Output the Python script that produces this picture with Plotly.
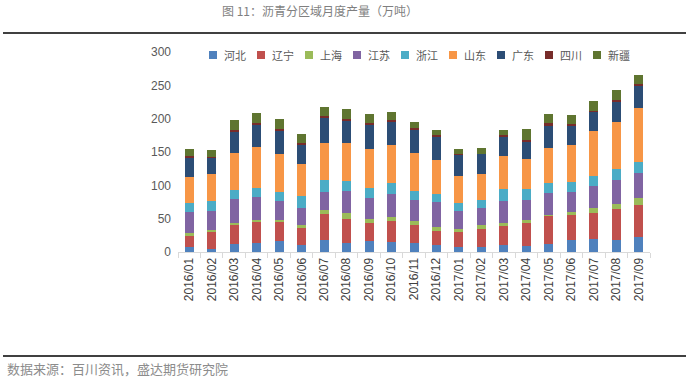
import plotly.graph_objects as go

months = ["2016/01", "2016/02", "2016/03", "2016/04", "2016/05", "2016/06", "2016/07",
          "2016/08", "2016/09", "2016/10", "2016/11", "2016/12", "2017/01", "2017/02",
          "2017/03", "2017/04", "2017/05", "2017/06", "2017/07", "2017/08", "2017/09"]

hebei = [7, 5, 12.5, 14, 17, 10, 18.5, 13.5, 16.5, 15.5, 13.5, 10, 8, 8, 10, 9.5, 12.5, 18.5, 20, 18.5, 23]
liaoning = [17.5, 25.5, 28.5, 31.5, 28.5, 26.5, 39, 36.5, 27.5, 31.5, 27.5, 22, 22.5, 27, 29.5, 34.5, 42, 37.5, 39, 46.5, 48]
shanghai = [4.5, 3, 2, 3, 3, 4.5, 6, 9, 6, 6, 6, 6, 4.5, 6, 4.5, 4.5, 1.5, 4.5, 7.5, 7.5, 10.5]
jiangsu = [31.5, 28.5, 37, 34.5, 28.5, 25.5, 27, 33, 31.5, 34.5, 31.5, 37.5, 27, 25.5, 33, 30, 33, 30, 33, 36, 37.5]
zhejiang = [12.5, 15, 13.5, 13.5, 13.5, 18, 18, 14, 15, 16.5, 13.5, 12, 12, 12, 17, 16.5, 15, 15, 15, 16.5, 16.5]
shandong = [40, 40.5, 55.5, 61.5, 57, 48, 55.5, 58, 58.5, 57, 57, 51, 40.5, 39, 50.5, 45, 52.5, 55.5, 67.5, 70.5, 81]
guangdong = [29, 24.5, 31.5, 33, 34.5, 27.5, 38, 33, 36, 35, 35, 34.5, 31.5, 30, 28.5, 25.5, 33, 28.5, 28.5, 30, 33]
sichuan = [1.5, 1, 3, 3, 3, 3, 1.5, 3, 3, 2.5, 1.5, 3, 1.5, 0, 2, 3, 4.5, 3, 1.5, 3, 3]
xinjiang = [11.5, 10.5, 15, 15, 15, 14.5, 14.5, 15, 13.5, 12, 10, 7.5, 7.5, 9, 8.5, 16.5, 13.5, 13.5, 15, 15, 13.5]

series_names = ["河北", "辽宁", "上海", "江苏", "浙江", "山东", "广东", "四川", "新疆"]
series_values = [hebei, liaoning, shanghai, jiangsu, zhejiang, shandong, guangdong, sichuan, xinjiang]
colors = ["#4F81BD", "#C0504D", "#9BBB59", "#8064A2", "#4BACC6",
          "#F79646", "#2C4D75", "#772C2A", "#5F7530"]

W, H = 686, 380
ML, MR, MT, MB = 178, 36, 52, 128
PW, PH = W - ML - MR, H - MT - MB


def px_x(p):
    return (p - ML) / PW


def px_y(p):
    return (H - MB - p) / PH


fig = go.Figure()
for name, vals, col in zip(series_names, series_values, colors):
    fig.add_trace(go.Bar(x=months, y=vals, name=name, marker_color=col,
                         marker_line_width=0, showlegend=False))

shapes = []
annotations = []
# manual legend
for i, (name, col) in enumerate(zip(series_names, colors)):
    x0 = 209 + 48 * i
    shapes.append(dict(type="rect", xref="paper", yref="paper",
                       x0=px_x(x0), x1=px_x(x0 + 8), y0=px_y(59), y1=px_y(51),
                       fillcolor=col, line_width=0))
    annotations.append(dict(text=name, xref="paper", yref="paper",
                            x=px_x(x0 + 13), y=px_y(55), xanchor="left", yanchor="middle",
                            showarrow=False,
                            font=dict(family="Noto Sans CJK SC", size=11, color="#595959")))

# top and bottom rules
shapes.append(dict(type="line", xref="paper", yref="paper",
                   x0=px_x(3), x1=px_x(686), y0=px_y(33), y1=px_y(33),
                   line=dict(color="#000000", width=1.5)))
shapes.append(dict(type="line", xref="paper", yref="paper",
                   x0=px_x(3), x1=px_x(686), y0=px_y(356), y1=px_y(356),
                   line=dict(color="#000000", width=1.5)))

annotations.append(dict(text="图 11：沥青分区域月度产量（万吨）", xref="paper", yref="paper",
                        x=px_x(320), y=px_y(11), xanchor="center", yanchor="middle",
                        showarrow=False,
                        font=dict(family="Noto Sans CJK SC", size=12, color="#7f7f7f")))
annotations.append(dict(text="数据来源：百川资讯，盛达期货研究院", xref="paper", yref="paper",
                        x=px_x(5), y=px_y(368), xanchor="left", yanchor="middle",
                        showarrow=False,
                        font=dict(family="Noto Sans CJK SC", size=13, color="#8c8c8c")))

fig.update_layout(
    barmode="stack",
    bargap=0.6,
    width=W, height=H,
    margin=dict(l=ML, r=MR, t=MT, b=MB, autoexpand=False),
    paper_bgcolor="white",
    plot_bgcolor="white",
    shapes=shapes,
    annotations=annotations,
    xaxis=dict(type="category", showline=True, linecolor="#d9d9d9", linewidth=1,
               ticks="outside", tickson="boundaries", ticklen=5, tickcolor="#d9d9d9",
               tickangle=-90, showgrid=False,
               tickfont=dict(family="Liberation Sans", size=12, color="#404040")),
    yaxis=dict(range=[0, 300], dtick=50, showgrid=False, showline=False, zeroline=False,
               ticks="", ticklabelstandoff=6,
               tickfont=dict(family="Liberation Sans", size=12, color="#595959")),
)

fig.write_html("out.html", config={"displayModeBar": False},
               post_script="document.body.style.margin='0';document.body.style.overflow='hidden';")
